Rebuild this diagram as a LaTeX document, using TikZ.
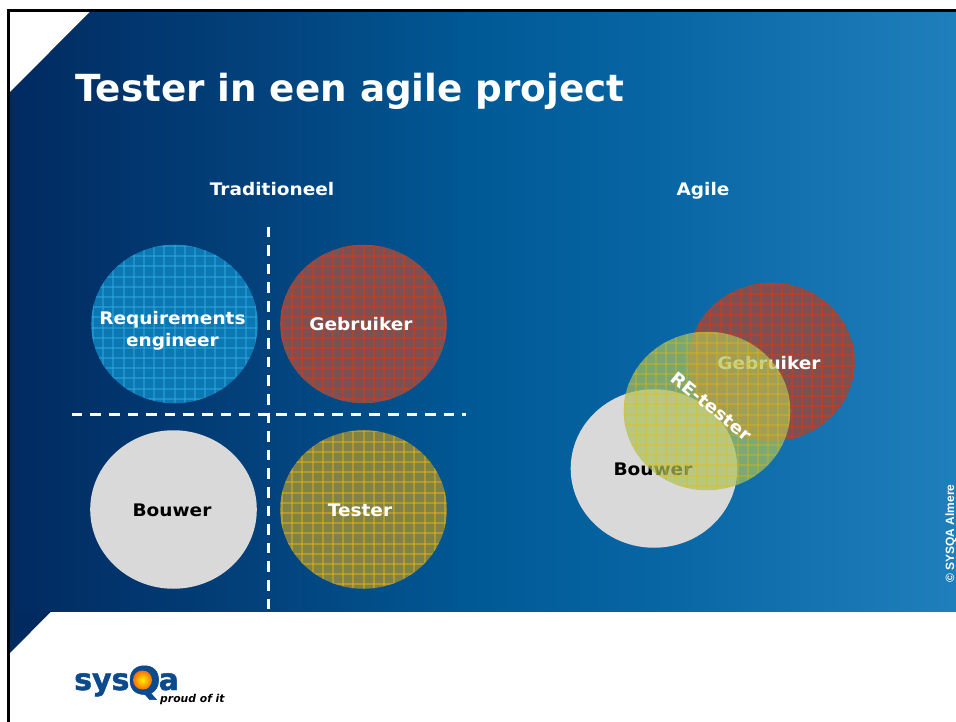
\documentclass[tikz,border=0pt]{standalone}
\usepackage{fontspec}
\setmainfont{DejaVu Sans}
\newfontfamily\arialfont{Liberation Sans}
\newfontfamily\lblfont[FakeStretch=1.07]{DejaVu Sans}
\newfontfamily\logofont[FakeBold=1.5]{DejaVu Sans}
\usetikzlibrary{shapes.geometric}
\definecolor{bgA}{HTML}{012A60}
\definecolor{bgB}{HTML}{03427C}
\definecolor{bgC}{HTML}{005A96}
\definecolor{bgD}{HTML}{0865A3}
\definecolor{bgE}{HTML}{1F7FBB}
\pgfdeclarehorizontalshading{slidebg}{100bp}{
  color(0bp)=(bgA); color(25bp)=(bgA); color(38.5bp)=(bgB); color(50bp)=(bgC); color(59bp)=(bgD); color(75bp)=(bgE); color(100bp)=(bgE)}
\definecolor{blueFill}{HTML}{0B78B4}
\definecolor{blueLine}{HTML}{2FA9E0}
\definecolor{redFill}{HTML}{7E5051}
\definecolor{redLine}{HTML}{E4350F}
\definecolor{yelFill}{HTML}{818246}
\definecolor{yelLine}{HTML}{EDB70C}
\definecolor{limeFill}{HTML}{ACC25A}
\definecolor{limeLine}{HTML}{EDBB00}
\definecolor{greyFill}{HTML}{D9D9D9}
\definecolor{logoBlue}{HTML}{0C4A8E}
% #1 colour, #2 opacity, #3 #4 centre of the disc: grid bars are snapped to the pixel raster
\newcommand{\hatchgrid}[4]{%
  \foreach \k in {-9,...,9}{
    \pgfmathsetmacro{\ox}{round(#3-1+\k*10.2)-#3}
    \pgfmathsetmacro{\oy}{round(#4+2.5+\k*10.2)-#4}
    \pgfmathsetmacro{\oxe}{\ox+2}
    \pgfmathsetmacro{\oye}{\oy+2}
    \fill[#1,opacity=#2] (\ox,-90) rectangle (\oxe,90);
    \fill[#1,opacity=#2] (-95,\oy) rectangle (95,\oye);
  }}
\tikzset{
  x=1pt,y=-1pt,
  disc/.style={ellipse,inner sep=0pt,minimum width=166.6pt,minimum height=158.5pt},
  bluedisc/.style 2 args={disc,fill=blueFill,path picture={\hatchgrid{blueLine}{0.5}{#1}{#2}}},
  reddisc/.style 2 args={disc,fill=redFill,path picture={\hatchgrid{redLine}{0.45}{#1}{#2}}},
  yeldisc/.style 2 args={disc,fill=yelFill,path picture={\hatchgrid{yelLine}{0.45}{#1}{#2}}},
  limedisc/.style 2 args={disc,fill=limeFill,fill opacity=0.7,path picture={\hatchgrid{limeLine}{0.3}{#1}{#2}}},
  greydisc/.style={disc,fill=greyFill},
  lbl/.style={font=\lblfont\fontsize{17.3}{22}\selectfont\bfseries,text=white,align=center,inner sep=0pt},
  darklbl/.style={lbl,text=black},
  divider/.style={draw=white,line width=3pt,dash pattern=on 10.5pt off 8.1pt},
}
\begin{document}
\begin{tikzpicture}
\useasboundingbox (0,0) rectangle (956,722);
\fill[white] (0,0) rectangle (956,722);
% background
\shade[shading=slidebg] (9,11) rectangle (956,611.5);
\fill[bgA] (9,611) -- (51.5,611) -- (9,654) -- cycle;
\fill[white] (9,11) -- (90.5,11) -- (9,93) -- cycle;
\draw[black,line width=2.6pt] (8.7,722) -- (8.7,10.7) -- (956,10.7);
% title
\node[anchor=base west,font=\fontsize{37.3}{44}\selectfont\bfseries,text=white,inner sep=0pt] (title) at (75,102) {Tester in een agile project};
\node[lbl,anchor=base] (trad) at (272,195.5) {Traditioneel};
\node[lbl,anchor=base] (agile) at (703,195.5) {Agile};
% dividers
\coordinate (vtop) at (268,226.6);
\coordinate (vbot) at (268,611);
\coordinate (hl) at (71.8,414);
\coordinate (hr) at (466,414);
\draw[divider] (vtop) -- (vbot);
\draw[divider] (hl) -- (hr);
% traditional discs
\node[bluedisc={174.5}{324}] (req) at (174.5,324) {};
\node[reddisc={363.5}{324}] (geb) at (363.5,324) {};
\node[greydisc] (bou) at (173.5,509.5) {};
\node[yeldisc={363.5}{509.5}] (tes) at (363.5,509.5) {};
\node[lbl] (reqt) at (172.5,331) {Requirements\\engineer};
\node[lbl,anchor=base] (gebt) at (361,330) {Gebruiker};
\node[darklbl,anchor=base] (bout) at (172,516) {Bouwer};
\node[lbl,anchor=base] (test) at (360,516) {Tester};
% agile discs
\node[reddisc={771.5}{362}] (ageb) at (771.5,362) {};
\node[lbl,anchor=base] (agebt) at (769,369) {Gebruiker};
\node[greydisc] (abou) at (654,468.5) {};
\node[darklbl,anchor=base] (aboutx) at (653,475) {Bouwer};
\node[limedisc={707}{411}] (ates) at (707,411) {};
\node[lbl,rotate=-39] (atest) at (711.5,406.5) {RE-tester};
% copyright
\node[rotate=90,font=\arialfont\fontsize{12}{12}\selectfont\bfseries,text=white,inner sep=0pt] (copy) at (951,533.5) {© SYSQA Almere};
% logo
\node[anchor=base west,font=\logofont\fontsize{30}{30}\selectfont\bfseries,text=logoBlue,inner sep=0pt] (sys) at (74,690) {sys};
\node[anchor=base west,font=\logofont\fontsize{38}{38}\selectfont\bfseries,text=logoBlue,inner sep=0pt] (qq) at (128,694) {Q};
\shade[inner color=yellow!90!orange,outer color=orange!85!red] (142.5,680) circle [radius=9.5pt];
\node[anchor=base west,font=\logofont\fontsize{30}{30}\selectfont\bfseries,text=logoBlue,inner sep=0pt] (aa) at (158.5,690) {a};
\node[anchor=base west,font=\fontsize{10.8}{12}\selectfont\bfseries\itshape,text=black,inner sep=0pt] (proud) at (160,702.5) {proud of it};
\end{tikzpicture}
\end{document}
